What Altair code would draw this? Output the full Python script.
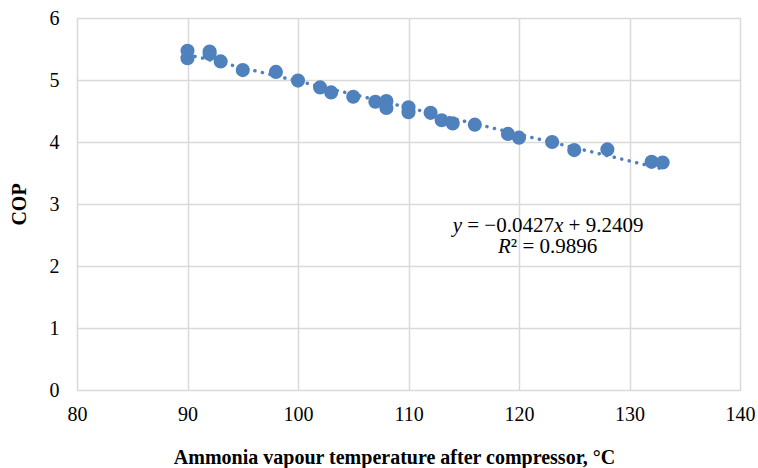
import altair as alt
import pandas as pd

# Data
temp = [90, 90, 92, 92, 93, 95, 98, 100, 102, 103, 105, 107, 108, 108,
        110, 110, 112, 113, 114, 116, 119, 120, 123, 125, 128, 132, 133]
cop = [5.47, 5.35, 5.46, 5.42, 5.30, 5.16, 5.13, 4.99, 4.88, 4.80, 4.73, 4.65, 4.66, 4.55,
       4.56, 4.48, 4.47, 4.35, 4.30, 4.28, 4.13, 4.07, 4.00, 3.87, 3.88, 3.68, 3.67]

x_ticks = [80, 90, 100, 110, 120, 130, 140]
y_ticks = [0, 1, 2, 3, 4, 5, 6]

eq_anchor_x = [114.0]
eq_anchor_y = [2.55]
r2_anchor_x = [118.1]
r2_anchor_y = [2.21]

BLUE = "#4F81BD"
GRID = "#D9D9D9"
FONT = "Liberation Serif"

df = pd.DataFrame({"t": temp, "cop": cop})

xscale = alt.Scale(domain=[80, 140], nice=False, zero=False)
yscale = alt.Scale(domain=[0, 6], nice=False)

xaxis = alt.Axis(values=x_ticks, title="Ammonia vapour temperature after compressor, °C",
                 format="d",
                 grid=True, gridColor=GRID, gridWidth=1.5, domain=False, ticks=False, tickSize=0,
                 labelFont=FONT, labelFontSize=20, labelColor="#000000", labelPadding=14,
                 labelFlush=False,
                 titleFont=FONT, titleFontSize=20, titleFontWeight="bold", titleColor="#000000",
                 titleX=317, titleY=73, titleBaseline="alphabetic", titleAlign="center")
yaxis = alt.Axis(values=y_ticks, title="COP", format="d",
                 grid=True, gridColor=GRID, gridWidth=1.5, domain=False, ticks=False, tickSize=0,
                 labelFont=FONT, labelFontSize=20, labelColor="#000000", labelPadding=18,
                 labelFlush=False,
                 titleFont=FONT, titleFontSize=20, titleFontWeight="bold", titleColor="#000000",
                 titleX=-58, titleY=186, titleBaseline="middle", titleAlign="center", titleAngle=270)

points = alt.Chart(df).mark_circle(size=200, color=BLUE, opacity=1).encode(
    x=alt.X("t:Q", scale=xscale, axis=xaxis),
    y=alt.Y("cop:Q", scale=yscale, axis=yaxis),
)

trend = alt.Chart(df).transform_regression("t", "cop", extent=[90, 133]).mark_line(
    color=BLUE, strokeWidth=3.5, strokeDash=[0.1, 7.6], strokeCap="round"
).encode(
    x=alt.X("t:Q", scale=xscale),
    y=alt.Y("cop:Q", scale=yscale),
)

eq_df = pd.DataFrame({"x": eq_anchor_x, "y": eq_anchor_y})
r2_df = pd.DataFrame({"x": r2_anchor_x, "y": r2_anchor_y})

FS = 21
def piece(src, text, dx, italic):
    return alt.Chart(src).mark_text(
        text=text, align="left", baseline="alphabetic", dx=dx, font=FONT, fontSize=FS,
        fontStyle="italic" if italic else "normal", color="#000000"
    ).encode(x=alt.X("x:Q", scale=xscale), y=alt.Y("y:Q", scale=yscale))

sp = 0.25 * FS
w_it = 0.444 * FS
w_mid = (0.564 + 0.25 + 0.564 + 2.75) * FS
d1 = w_it + sp
d2 = d1 + w_mid
d3 = d2 + w_it + sp
texts = [
    piece(eq_df, "y", 0, True),
    piece(eq_df, "= \u22120.0427", d1, False),
    piece(eq_df, "x", d2, True),
    piece(eq_df, "+ 9.2409", d3, False),
    piece(r2_df, "R", 0, True),
    piece(r2_df, "\u00b2 = 0.9896", 0.611 * FS, False),
]

chart = alt.layer(points, trend, *texts).properties(
    width=663, height=372,
    autosize=alt.AutoSizeParams(type="none"),
    padding={"left": 77, "top": 18, "right": 18, "bottom": 78},
).configure_view(stroke=None).configure(background="white")

chart.save("out.html", embed_options={"renderer": "svg", "actions": False})
